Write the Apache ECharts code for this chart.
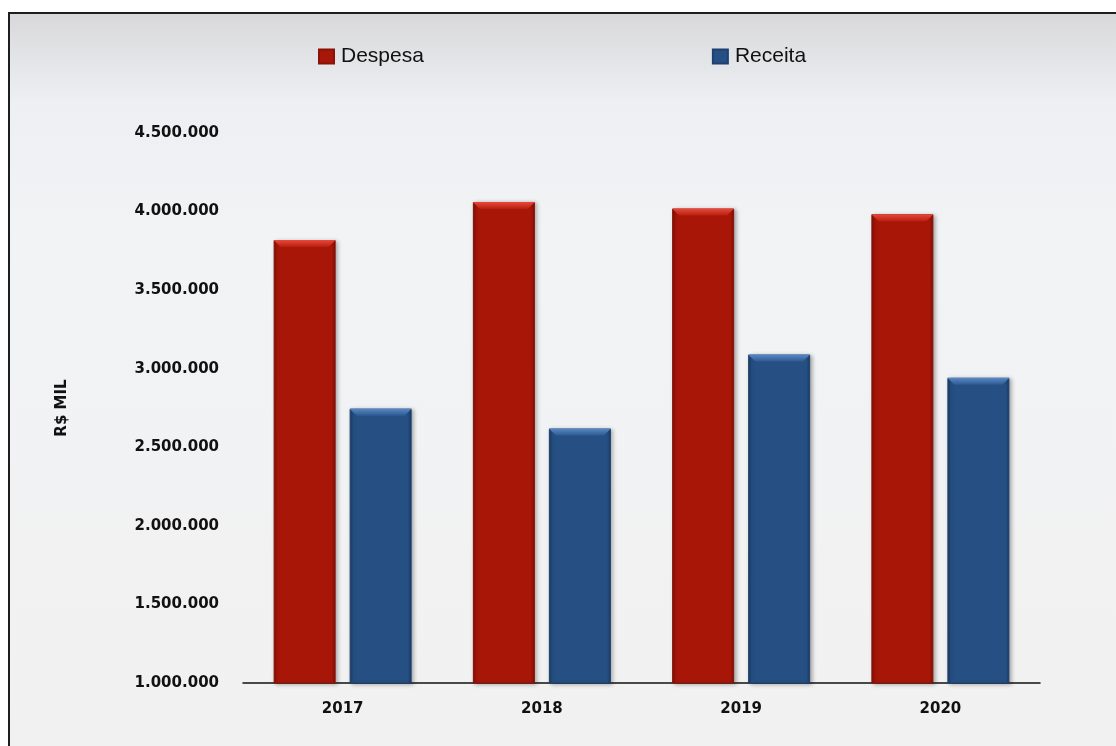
<!DOCTYPE html>
<html>
<head>
<meta charset="utf-8">
<script src="https://cdn.jsdelivr.net/npm/echarts@6/dist/echarts.min.js"></script>
<style>
  html, body { margin: 0; padding: 0; background: #ffffff; }
  #chart { width: 1116px; height: 746px; }
</style>
</head>
<body>
<div id="chart"></div>
<script>
// Anos e valores (R$ mil)
const years = ['2017', '2018', '2019', '2020'];
const despesa = [3819000, 4061000, 4019000, 3983000];
const receita = [2746000, 2619000, 3090000, 2942000];
const yTicks = { min: 1000000, max: 4500000, step: 500000 };

const BAR_W = 62;
const BAR_GAP = 14;

const chart = echarts.init(document.getElementById('chart'), null, { renderer: 'canvas' });

function barFill(edge, body) {
  return new echarts.graphic.LinearGradient(0, 0, 1, 0, [
    { offset: 0, color: edge },
    { offset: 0.06, color: body },
    { offset: 0.94, color: body },
    { offset: 1, color: edge }
  ]);
}

function fmt(v) {
  return String(v).replace(/\B(?=(\d{3})+(?!\d))/g, '.');
}

// Chanfro claro no topo de cada barra
function bevel(values, side, light, mid) {
  return {
    type: 'custom',
    name: 'bevel-' + side,
    silent: true,
    z: 3,
    data: values.map((v, i) => [i, v]),
    renderItem: function (params, api) {
      const p = api.coord([api.value(0), api.value(1)]);
      const cx = p[0] + side * (BAR_W + BAR_GAP) / 2;
      const x0 = cx - BAR_W / 2, x1 = cx + BAR_W / 2, t = p[1];
      const d = 7;
      return {
        type: 'polygon',
        shape: { points: [[x0, t], [x1, t], [x1 - d, t + d], [x0 + d, t + d]] },
        style: {
          fill: new echarts.graphic.LinearGradient(0, 0, 0, 1, [
            { offset: 0, color: light },
            { offset: 1, color: mid }
          ])
        }
      };
    }
  };
}

const option = {
  backgroundColor: '#ffffff',
  animation: false,
  textStyle: { fontFamily: 'DejaVu Sans' },
  graphic: [
    {
      type: 'rect',
      z: -10,
      shape: { x: 9, y: 13, width: 1120, height: 740 },
      style: {
        fill: new echarts.graphic.LinearGradient(0, 0, 0, 1, [
          { offset: 0, color: '#d8d8da' },
          { offset: 0.12, color: '#edeff2' },
          { offset: 0.3, color: '#f2f3f5' },
          { offset: 1, color: '#f1f1f1' }
        ]),
        stroke: '#1e1e1e',
        lineWidth: 2
      },
      silent: true
    }
  ],
  legend: {
    data: ['Despesa', 'Receita'],
    left: 313,
    top: 41,
    itemGap: 288,
    itemWidth: 15,
    itemHeight: 14,
    icon: 'rect',
    textStyle: { fontFamily: 'Liberation Sans', fontSize: 21, color: '#111111', padding: [0, 0, 0, 2] }
  },
  grid: { left: 243, right: 76, top: 133, bottom: 63, containLabel: false },
  xAxis: {
    type: 'category',
    data: years,
    axisLine: { lineStyle: { color: '#111111', width: 1.5 } },
    axisTick: { show: false },
    axisLabel: { fontWeight: 'bold', fontSize: 15, color: '#111111', margin: 19 }
  },
  yAxis: {
    type: 'value',
    min: yTicks.min,
    max: yTicks.max,
    interval: yTicks.step,
    name: 'R$ MIL',
    nameLocation: 'middle',
    nameGap: 173,
    nameRotate: 90,
    nameTextStyle: { fontWeight: 'bold', fontSize: 15, color: '#111111' },
    axisLine: { show: false },
    axisTick: { show: false },
    splitLine: { show: false },
    axisLabel: { fontWeight: 'bold', fontSize: 15, color: '#111111', margin: 24, formatter: fmt }
  },
  series: [
    {
      name: 'Despesa',
      type: 'bar',
      data: despesa,
      barWidth: BAR_W,
      barGap: (BAR_GAP / BAR_W * 100) + '%',
      itemStyle: {
        color: barFill('#7c0f06', '#a81608'),
        borderColor: '#8a1207',
        borderWidth: 1,
        shadowColor: 'rgba(0,0,0,0.3)',
        shadowBlur: 4,
        shadowOffsetX: 2,
        shadowOffsetY: 1
      }
    },
    {
      name: 'Receita',
      type: 'bar',
      data: receita,
      barWidth: BAR_W,
      itemStyle: {
        color: barFill('#1a3b63', '#265083'),
        borderColor: '#1d4170',
        borderWidth: 1,
        shadowColor: 'rgba(0,0,0,0.3)',
        shadowBlur: 4,
        shadowOffsetX: 2,
        shadowOffsetY: 1
      }
    },
    bevel(despesa, -1, '#e8483a', '#b8200f'),
    bevel(receita, 1, '#5a88c4', '#2c5a92')
  ]
};

chart.setOption(option);
</script>
</body>
</html>
